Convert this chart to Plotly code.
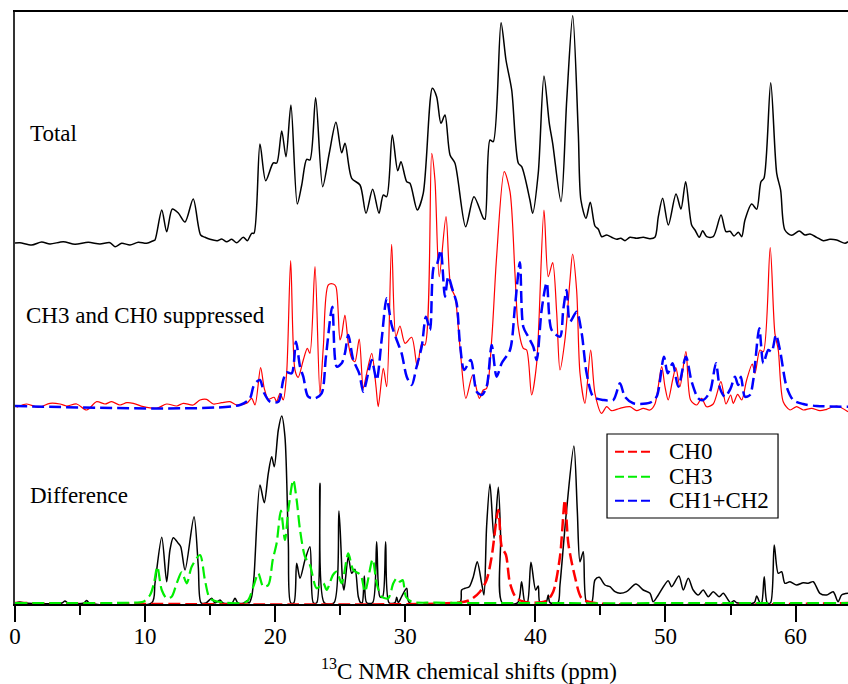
import numpy as np
import plotly.graph_objects as go

# 13C NMR spectra: chemical shift (ppm) and intensity (arbitrary units, relative to each trace baseline)

total_ppm = [0.00, 0.38, 1.28, 2.05, 2.69, 3.71, 4.61, 5.63, 6.53, 7.30, 7.69, 8.20, 8.84, 9.48, 10.12, 10.63, 10.76,
             11.28, 11.66, 12.09, 12.55, 13.07, 13.70, 14.27, 14.60, 14.99, 15.55, 15.89, 16.27, 16.66, 17.04, 17.55,
             17.86, 18.19, 18.37, 18.83, 19.27, 19.85, 20.12, 20.50, 20.83, 21.21, 21.70, 22.04, 22.42, 22.67, 23.11,
             23.65, 24.16, 24.67, 25.11, 25.37, 25.88, 26.52, 26.98, 27.49, 27.98, 28.31, 28.57, 29.00, 29.42, 29.67,
             30.11, 30.36, 30.92, 31.38, 32.08, 32.41, 32.74, 33.05, 33.44, 33.82, 34.64, 35.28, 36.00, 36.13, 36.51,
             36.76, 37.36, 37.74, 38.18, 38.69, 38.95, 39.58, 39.79, 40.22, 40.66, 41.07, 41.33, 41.97, 42.41, 42.87,
             43.30, 43.50, 43.89, 44.22, 44.58, 44.84, 45.10, 45.48, 45.86, 46.25, 46.56, 46.89, 47.27, 47.79, 48.29,
             48.81, 49.19, 49.45, 49.78, 50.22, 50.81, 51.19, 51.55, 52.01, 52.27, 52.60, 52.86, 53.17, 53.67, 54.27,
             54.65, 54.96, 55.27, 55.60, 55.86, 56.11, 56.63, 57.01, 57.34, 57.57, 58.09, 58.55, 58.85, 59.18, 59.70,
             60.28, 60.72, 61.11, 61.62, 62.13, 62.64, 63.16, 63.80, 64.03]
total_int = [-1.0, -0.7, -3.0, 0.0, -2.0, 0.3, -2.3, -0.3, -2.0, -0.7, -4.7, -1.3, -3.0, -0.3, -1.3, 1.3, 2.0,
             32.0, 10.3, 33.0, 29.0, 20.0, 43.0, 7.0, 4.7, 2.7, 1.3, 3.0, 0.3, 2.7, -0.7, 4.7,
             1.3, 8.7, 8.7, 98.0, 61.3, 79.0, 79.0, 111.0, 85.3, 137.0, 38.0, 57.0, 82.7, 82.0, 144.3,
             55.3, 89.0, 119.7, 89.3, 98.7, 63.7, 57.0, 28.7, 52.7, 28.7, 47.0, 45.3, 107.0, 71.3, 80.3,
             60.3, 58.7, 32.0, 48.7, 153.7, 145.3, 118.7, 127.0, 87.0, 78.7, 15.3, 45.3, 23.7, 22.7, 102.0,
             100.3, 219.3, 182.0, 152.0, 78.7, 75.3, 42.0, 28.7, 68.7, 166.0, 118.7, 98.7, 40.3, 142.0, 226.3,
             108.7, 42.0, 23.7, 39.7, 16.0, 12.7, 5.3, 7.0, 4.7, 2.7, 3.7, 1.3, 4.7, 3.7, 4.7,
             3.3, 4.7, 25.3, 43.7, 17.0, 48.0, 33.0, 60.3, 17.0, 12.0, 4.7, 11.3, 5.3, 5.3, 27.0,
             10.3, 10.7, 6.0, 9.7, 5.3, 22.0, 38.0, 32.7, 60.3, 63.7, 159.3, 68.7, 52.0, 12.0, 6.7,
             11.0, 7.0, 8.0, 4.7, 1.3, 2.7, 2.0, -1.3, 0.3]

supp_ppm = [0.13, 0.90, 1.79, 2.69, 3.46, 3.97, 4.74, 5.51, 6.28, 6.92, 7.43, 8.07, 8.59, 9.09, 9.86, 10.89, 11.66,
            12.43, 12.94, 13.70, 14.22, 14.73, 15.24, 15.89, 16.52, 17.04, 17.81, 18.19, 18.45, 18.88, 19.16, 19.47,
            19.91, 20.11, 20.37, 20.62, 20.88, 21.19, 21.52, 21.77, 22.16, 22.47, 22.67, 23.06, 23.44, 23.70, 24.08,
            24.46, 24.67, 24.98, 25.11, 25.36, 25.62, 25.88, 26.13, 26.46, 26.77, 27.03, 27.42, 27.75, 27.92, 28.31,
            28.57, 28.95, 29.28, 29.59, 29.98, 30.49, 30.92, 31.26, 31.51, 32.03, 32.28, 32.61, 33.13, 33.49, 33.82,
            34.20, 34.66, 35.18, 35.69, 35.99, 36.25, 36.64, 37.02, 37.61, 38.05, 38.43, 38.68, 39.07, 39.33, 39.71,
            40.10, 40.66, 40.99, 41.33, 41.64, 41.89, 42.27, 42.66, 42.86, 43.17, 43.43, 43.81, 44.25, 44.58, 45.09,
            45.48, 45.86, 46.50, 47.27, 47.78, 48.29, 48.81, 49.19, 49.71, 49.96, 50.21, 50.55, 50.80, 51.11, 51.57,
            51.93, 52.40, 52.78, 53.16, 53.67, 54.26, 54.65, 55.01, 55.21, 55.55, 55.86, 56.24, 56.67, 56.88, 57.26,
            57.52, 58.05, 58.41, 58.67, 59.05, 59.57, 60.08, 60.59, 61.23, 61.87, 62.39, 63.16, 64.03]
supp_int = [-0.3, 3.0, -0.3, 3.7, 3.0, 1.0, 3.0, -3.0, 5.3, 3.0, 5.3, 2.0, 4.3, 3.7, 0.3, -1.3, 3.0,
            1.0, 3.7, 2.0, 7.0, 7.7, 3.0, 4.3, 5.3, 2.0, 3.7, 8.7, 2.0, 39.3, 18.7, 7.7,
            9.7, 5.3, 13.7, 7.0, 33.7, 146.3, 37.0, 29.7, 47.0, 58.7, 53.7, 140.3, 13.7, 60.3, 122.0,
            123.0, 120.3, 67.0, 72.0, 92.0, 63.7, 48.7, 45.3, 68.0, 18.7, 33.7, 53.7, 20.3, 0.3, 38.7,
            20.3, 162.7, 70.3, 81.0, 63.7, 69.7, 40.3, 63.0, 62.0, 253.7, 227.0, 130.3, 190.3, 120.3, 110.3,
            60.3, 8.7, 32.0, 8.7, 17.0, 18.7, 67.0, 150.3, 235.3, 215.3, 133.7, 80.3, 58.7, 57.0, 12.0,
            43.7, 197.0, 130.3, 144.3, 93.7, 37.0, 67.0, 127.0, 153.0, 117.0, 33.7, 3.7, 57.0, 13.7, -6.3,
            0.3, -3.7, -1.3, 0.3, -3.7, -1.3, -3.0, 3.0, 40.3, 20.3, 7.0, 27.0, 39.3, 20.3, 55.3,
            7.0, 2.0, 8.7, 0.3, 3.0, 25.3, 3.0, 12.0, 3.7, 12.7, 7.0, 27.0, 43.0, 33.7, 57.0,
            55.3, 159.3, 73.7, 57.0, 5.3, -3.0, 0.3, -3.0, -1.3, -3.7, -2.3, 1.0, -4.7]

ch12_ppm = [0.00, 17.29, 18.06, 18.32, 18.58, 18.83, 19.16, 19.60, 20.24, 20.62, 20.88, 21.27, 21.60, 21.91, 22.16,
            22.54, 23.06, 23.57, 23.90, 24.39, 24.73, 25.11, 25.36, 25.62, 26.00, 26.46, 26.77, 27.15, 27.42, 27.80,
            28.18, 28.57, 28.95, 29.34, 29.72, 30.11, 30.49, 30.87, 31.26, 31.59, 31.90, 32.20, 32.41, 32.72, 33.05,
            33.30, 33.64, 33.95, 34.20, 34.53, 35.03, 35.49, 35.87, 36.25, 36.64, 37.02, 37.41, 38.05, 38.43, 38.81,
            39.07, 39.45, 39.84, 40.10, 40.48, 40.87, 41.25, 41.89, 42.14, 42.40, 42.66, 43.17, 43.56, 43.94, 44.45,
            45.22, 45.99, 46.50, 46.88, 47.52, 48.81, 49.32, 49.88, 50.17, 50.55, 50.98, 51.57, 52.01, 52.52, 52.90,
            53.42, 53.88, 54.19, 54.57, 55.01, 55.34, 55.59, 55.80, 56.11, 56.49, 56.75, 57.21, 57.52, 57.90, 58.16,
            58.49, 58.80, 59.31, 59.82, 60.59, 61.62, 64.03]
ch12_int = [1.0, 2.0, 8.7, 20.3, 25.3, 27.0, 13.7, 5.3, 5.3, 27.0, 34.7, 33.7, 65.3, 40.3, 30.3,
            10.3, 8.7, 13.7, 50.3, 100.3, 40.3, 43.7, 53.7, 72.0, 47.0, 33.7, 15.3, 33.7, 47.0, 27.0,
            67.0, 108.7, 82.0, 67.0, 53.7, 30.3, 22.0, 40.3, 60.3, 90.3, 77.0, 140.3, 142.0, 157.0, 110.3,
            130.3, 117.0, 103.7, 63.7, 37.0, 47.0, 15.3, 12.0, 20.3, 62.0, 30.3, 43.7, 57.0, 100.3, 144.7,
            80.3, 70.3, 60.3, 47.0, 97.0, 124.3, 77.0, 70.3, 97.0, 117.0, 85.3, 95.3, 73.7, 33.7, 10.3,
            7.0, 7.0, 23.7, 10.3, 3.7, 4.3, 10.3, 50.3, 33.7, 43.7, 20.3, 50.3, 25.3, 8.7, 7.0,
            15.3, 43.7, 18.7, 10.3, 18.7, 30.3, 22.0, 30.3, 10.3, 12.0, 27.0, 78.7, 43.7, 57.0, 55.3,
            72.0, 57.0, 20.3, 7.0, 3.0, 1.0, 0.3]

diff_ppm = [0.00, 0.38, 0.77, 3.61, 3.84, 4.07, 5.30, 5.51, 5.73, 10.51, 10.76, 11.28, 11.66, 11.91, 12.17, 12.55,
            12.74, 13.07, 13.76, 14.09, 14.30, 14.68, 15.12, 15.37, 15.76, 15.99, 16.68, 16.91, 17.14, 17.60, 17.81,
            17.99, 18.19, 18.37, 18.83, 19.16, 19.47, 19.73, 19.93, 20.24, 20.50, 20.75, 21.01, 21.19, 21.44, 21.65,
            21.91, 22.29, 22.67, 22.93, 23.19, 23.44, 23.77, 24.52, 24.90, 25.19, 25.29, 25.62, 25.88, 26.13, 26.39,
            26.57, 26.69, 26.85, 27.03, 27.49, 27.80, 28.05, 28.26, 28.49, 28.75, 29.21, 29.34, 29.46, 29.72, 30.11,
            30.31, 34.20, 34.33, 34.59, 34.92, 35.23, 35.53, 35.87, 36.05, 36.25, 36.51, 36.82, 37.15, 37.33, 37.45,
            38.64, 38.94, 39.20, 39.38, 39.66, 40.02, 40.22, 40.35, 40.81, 40.99, 41.12, 41.73, 41.89, 42.40, 42.96,
            43.22, 43.43, 43.68, 43.94, 44.32, 44.58, 44.91, 45.35, 45.73, 46.12, 46.50, 47.01, 47.73, 48.29, 48.81,
            49.06, 49.45, 50.21, 50.47, 51.03, 51.37, 51.75, 52.13, 52.52, 52.90, 53.29, 53.67, 54.13, 54.44, 54.82,
            55.01, 55.26, 55.47, 56.82, 57.01, 57.26, 57.39, 57.59, 57.82, 58.08, 58.36, 58.67, 58.93, 59.18, 59.57,
            60.08, 60.59, 60.97, 61.36, 61.87, 62.39, 62.89, 63.27, 63.54, 64.03]
diff_int = [0.0, 1.0, 0.0, 0.0, 2.0, 0.0, 0.0, 2.5, 0.0, 0.3, 19.7, 65.7, 21.3, 53.0, 65.3, 59.7,
            56.3, 33.0, 86.3, 36.3, 0.3, 0.0, 4.7, 0.0, 3.0, 0.0, 0.0, 4.7, 0.0, 0.0, 2.0,
            0.0, 6.3, 26.3, 118.0, 100.3, 129.7, 146.3, 136.3, 173.0, 187.0, 166.3, 59.7, 0.3, 0.3, 39.7,
            24.7, 43.0, 56.3, 0.3, 0.3, 119.7, 0.3, 0.3, 92.0, 19.7, 13.0, 46.3, 29.7, 33.7, 6.3,
            0.3, 0.3, 27.0, 0.3, 0.3, 61.3, 6.3, 6.3, 61.3, 0.3, 0.3, 5.7, 0.3, 6.3, 14.7,
            0.3, 0.3, 13.0, 14.7, 16.3, 26.3, 41.3, 19.7, 8.0, 76.3, 119.0, 64.7, 115.7, 66.3, 0.3,
            0.3, 21.3, 0.3, 0.3, 40.7, 13.0, 17.0, 0.3, 0.3, 8.0, 0.3, 0.3, 18.0, 93.0, 157.0,
            93.0, 41.3, 51.3, 0.3, 0.3, 23.0, 25.7, 18.0, 16.3, 11.3, 9.7, 11.3, 19.0, 13.0, 9.7,
            1.3, 8.0, 22.3, 16.3, 27.0, 13.0, 24.7, 13.0, 8.0, 13.0, 6.3, 11.3, 6.3, 9.7, 3.0,
            0.3, 2.3, 0.3, 0.3, 7.0, 0.3, 0.3, 26.3, 0.3, 0.3, 58.0, 29.7, 31.3, 19.7, 21.3,
            18.0, 20.3, 19.7, 21.3, 9.7, 8.0, 11.3, 1.3, 8.0, 9.7]

ch3_ppm = [0.00, 8.84, 9.86, 10.38, 10.68, 10.94, 11.28, 11.66, 12.04, 12.43, 12.81, 13.20, 13.58, 14.22, 14.60,
           14.99, 15.76, 17.81, 18.32, 18.70, 19.08, 19.47, 19.81, 20.11, 20.44, 20.75, 21.01, 21.39, 21.65, 21.91,
           22.29, 22.67, 23.19, 23.70, 23.96, 24.44, 24.73, 25.11, 25.62, 26.00, 26.57, 26.90, 27.49, 27.80, 28.18,
           28.69, 29.08, 29.34, 29.59, 29.80, 30.05, 30.49, 32.41, 64.03]
ch3_int = [0.0, 0.3, 1.3, 8.0, 19.7, 36.3, 13.0, 4.7, 6.3, 19.7, 30.7, 19.7, 36.3, 48.0, 23.0,
           4.7, 1.0, 1.3, 16.3, 29.7, 16.3, 18.0, 43.0, 59.7, 92.3, 63.0, 93.0, 123.0, 103.0, 73.0,
           46.3, 38.0, 14.7, 19.7, 13.0, 28.0, 31.3, 19.7, 49.7, 33.0, 28.0, 11.3, 43.7, 19.7, 6.3,
           4.7, 19.7, 24.7, 21.3, 23.0, 6.3, 1.3, 0.3, 0.0]

ch0_ppm = [0.00, 33.95, 34.97, 35.74, 36.25, 36.64, 37.15, 37.41, 37.74, 38.05, 38.56, 39.58, 40.87, 41.37, 41.89,
           42.27, 42.53, 43.04, 43.56, 44.45, 64.03]
ch0_int = [0.0, 0.3, 3.0, 11.3, 23.0, 46.3, 93.0, 56.3, 48.0, 19.7, 4.7, 0.3, 2.3, 11.3, 46.3,
           103.0, 59.7, 26.3, 4.7, 0.3, 0.0]

legend_names = ["CH0", "CH3", "CH1+CH2"]
legend_colors = ["#ff0000", "#00ee00", "#0000ff"]

# vertical offsets used to stack the three panels
OFFSET_TOTAL = 362
OFFSET_SUPP = 197
OFFSET_DIFF = 1

SERIF = "Liberation Serif"
SMOOTH = 0.8
DASH = "12px,5px"

fig = go.Figure()


def add(ppm, inten, offset, color, width, dash="solid", name=None):
    fig.add_trace(go.Scatter(
        x=ppm, y=np.asarray(inten) + offset, mode="lines", name=name,
        line=dict(color=color, width=width, dash=dash, shape="spline", smoothing=SMOOTH),
        showlegend=False, hoverinfo="skip"))


add(total_ppm, total_int, OFFSET_TOTAL, "black", 1.5, name="Total")
add(supp_ppm, supp_int, OFFSET_SUPP, "#ff0000", 1.2, name="CH3 and CH0 suppressed")
add(diff_ppm, diff_int, OFFSET_DIFF, "black", 1.5, name="Difference")
add(ch0_ppm, ch0_int, OFFSET_DIFF, legend_colors[0], 2.5, DASH, legend_names[0])
add(ch3_ppm, ch3_int, OFFSET_DIFF, legend_colors[1], 2.2, DASH, legend_names[1])
add(ch12_ppm, ch12_int, OFFSET_SUPP, legend_colors[2], 2.5, DASH, legend_names[2])

# panel captions
for text, x, y in [("Total", 0.0157, 471), ("CH3 and CH0 suppressed", 0.0108, 289), ("Difference", 0.0157, 109)]:
    fig.add_annotation(x=x, xref="paper", y=y, yref="y", text=text, showarrow=False,
                       xanchor="left", yanchor="middle",
                       font=dict(family=SERIF, size=23, color="black"))

# x-axis title (centred under the full spectral window)
fig.add_annotation(x=0.5445, xref="paper", y=-0.111, yref="paper",
                   text="<sup>13</sup>C NMR chemical shifts (ppm)", showarrow=False,
                   xanchor="center", yanchor="middle", font=dict(family=SERIF, size=23, color="black"))

# boxed legend with dashed samples
LEG_X0, LEG_X1, LEG_Y0, LEG_Y1 = 0.7107, 0.9160, 0.1453, 0.2872
row_y = [0.2573, 0.2150, 0.1745]
fig.add_shape(type="rect", xref="paper", yref="paper", x0=LEG_X0, x1=LEG_X1, y0=LEG_Y0, y1=LEG_Y1,
              line=dict(color="black", width=1.2), fillcolor="white", layer="above")
for name, color, ry in zip(legend_names, legend_colors, row_y):
    fig.add_shape(type="line", xref="paper", yref="paper", x0=0.7203, x1=0.7623, y0=ry, y1=ry,
                  line=dict(color=color, width=2, dash="9px,4px"), layer="above")
    fig.add_annotation(x=0.7823, xref="paper", y=ry, yref="paper", text=name, showarrow=False,
                       xanchor="left", yanchor="middle", font=dict(family=SERIF, size=23, color="black"))

fig.update_xaxes(range=[0, 64.03], showline=True, linewidth=2, linecolor="black", mirror=True,
                 ticks="outside", ticklen=16, tickwidth=1.5, tickcolor="black", dtick=10, tick0=0,
                 minor=dict(dtick=5, ticks="outside", ticklen=9, tickwidth=1.5, tickcolor="black"),
                 showgrid=False, zeroline=False, ticklabelstandoff=-6,
                 tickfont=dict(family=SERIF, size=23, color="black"))
fig.update_yaxes(range=[0, 592], showline=True, linewidth=2, linecolor="#333333", mirror=False,
                 showticklabels=False, ticks="", showgrid=False, zeroline=False)

fig.update_layout(
    width=848, height=684,
    margin=dict(l=15, r=0, t=12, b=80),
    plot_bgcolor="white", paper_bgcolor="white",
    font=dict(family=SERIF, size=23, color="black"),
    showlegend=False,
)

fig.write_html("out.html", config={"displayModeBar": False})
